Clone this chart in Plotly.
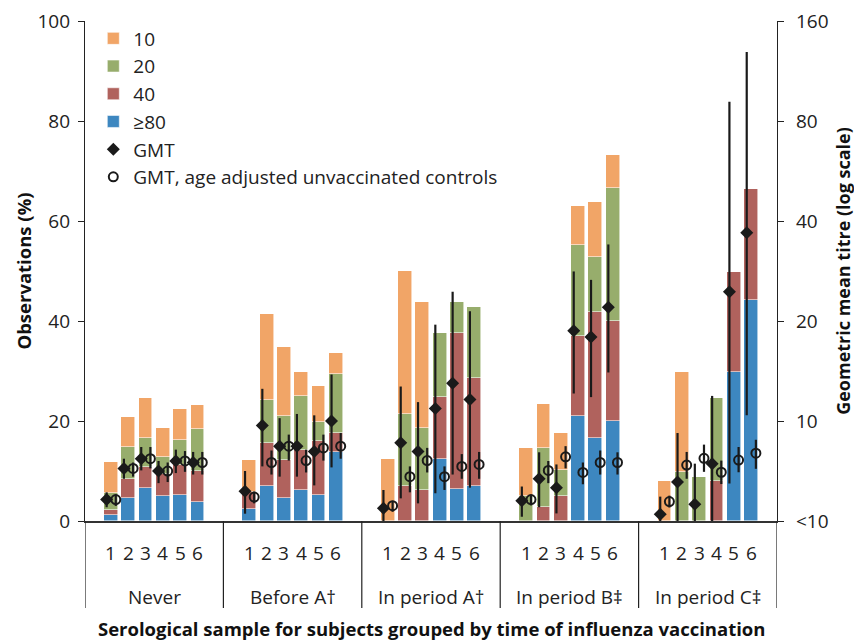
import plotly.graph_objects as go

groups = ["Never", "Before A\u2020", "In period A\u2020", "In period B\u2021", "In period C\u2021"]
samples = ["1", "2", "3", "4", "5", "6"]

# Percent of observations per titre level (segment heights), 5 groups x 6 samples
pct_80 = [1.2, 4.7, 6.7, 5.1, 5.3, 3.9,
          2.5, 7.1, 4.7, 6.3, 5.3, 13.9,
          0.0, 0.0, 0.0, 12.5, 6.4, 7.1,
          0.0, 0.0, 0.0, 21.1, 16.7, 20.1,
          0.0, 0.0, 0.0, 0.0, 29.8, 44.3]
pct_40 = [1.0, 3.7, 4.1, 4.4, 5.9, 6.1,
          3.4, 8.6, 7.5, 8.0, 10.7, 3.8,
          0.0, 7.1, 6.3, 12.4, 31.3, 21.6,
          0.0, 2.9, 5.0, 15.9, 25.1, 20.0,
          0.0, 0.0, 0.0, 8.1, 20.1, 22.2]
pct_20 = [3.5, 6.5, 5.9, 3.4, 5.1, 8.4,
          0.0, 8.6, 8.9, 10.8, 3.8, 11.7,
          0.0, 14.4, 12.4, 12.8, 6.2, 14.2,
          5.0, 11.8, 5.2, 18.2, 11.0, 26.5,
          0.0, 9.8, 8.9, 16.6, 0.0, 0.0]
pct_10 = [6.2, 5.9, 7.9, 5.8, 6.2, 4.8,
          6.3, 17.2, 13.8, 4.7, 7.2, 4.2,
          12.5, 28.5, 25.2, 0.0, 0.0, 0.0,
          9.6, 8.8, 7.5, 7.9, 11.0, 6.7,
          8.1, 20.0, 0.0, 0.0, 0.0, 0.0]

# Geometric mean titres with 95% CI (right axis, log scale)
gmt = [5.8, 7.2, 7.7, 7.07, 7.58, 7.5,
       6.14, 9.7, 8.4, 8.4, 8.1, 10.0,
       5.46, 8.6, 8.1, 10.9, 13.0, 11.6,
       5.75, 6.7, 6.3, 18.7, 17.9, 22.0,
       5.24, 6.55, 5.62, 7.44, 24.5, 36.9]
gmt_lo = [5.5, 6.7, 7.1, 6.5, 6.97, 6.9,
          5.26, 7.3, 6.8, 6.8, 6.4, 7.25,
          4.78, 5.85, 5.65, 6.06, 6.9, 6.3,
          5.15, 5.5, 5.27, 12.1, 11.8, 14.0,
          4.9, 4.9, 4.9, 4.9, 6.48, 10.4]
gmt_hi = [6.1, 7.7, 8.35, 7.58, 8.2, 8.07,
          7.07, 12.5, 10.2, 10.5, 10.4, 13.8,
          6.2, 12.7, 11.4, 19.5, 24.5, 21.4,
          6.35, 8.05, 7.4, 28.2, 26.6, 34.0,
          5.92, 9.2, 7.44, 11.9, 91.5, 129.0]

ctrl = [5.8, 7.2, 7.7, 7.07, 7.58, 7.5,
        5.9, 7.5, 8.4, 7.6, 8.3, 8.4,
        5.56, 6.8, 7.6, 6.8, 7.3, 7.4,
        5.8, 7.1, 7.8, 7.0, 7.5, 7.5,
        5.72, 7.37, 7.72, 7.01, 7.63, 8.0]
ctrl_lo = [5.55, 6.8, 7.2, 6.55, 7.03, 6.9,
           5.65, 6.9, 7.6, 7.0, 7.6, 7.7,
           5.33, 6.1, 7.0, 6.2, 6.7, 6.7,
           5.57, 6.5, 7.2, 6.45, 6.9, 6.9,
           5.49, 6.7, 7.03, 6.46, 7.01, 7.18]
ctrl_hi = [6.0, 7.5, 8.35, 7.5, 8.12, 8.07,
           6.13, 8.15, 9.1, 8.2, 9.1, 9.2,
           5.75, 7.3, 8.3, 7.3, 7.95, 8.07,
           6.0, 7.58, 8.4, 7.5, 8.15, 8.05,
           5.96, 8.07, 8.49, 7.6, 8.35, 8.78]

y2_tickvals = [5, 10, 20, 40, 80, 160]
y2_ticktext = ["<10", "10", "20", "40", "80", "160"]

FONT = "Open Sans"
FS = 19
SLOTS = 8  # category slots per group (one empty slot each side)

xpos = [g * SLOTS + k + 1 for g in range(len(groups)) for k in range(len(samples))]
x_gmt = [x - 0.25 for x in xpos]
x_ctrl = [x + 0.28 for x in xpos]

fig = go.Figure()
bar_line = dict(color="rgba(255,255,255,0.7)", width=0.8)
for name, vals, col, rank in [("\u226580", pct_80, "#3D87C0", 4),
                              ("40", pct_40, "#B0625D", 3),
                              ("20", pct_20, "#97AD6C", 2),
                              ("10", pct_10, "#F1A567", 1)]:
    fig.add_trace(go.Bar(x=xpos, y=vals, name=name, width=0.8,
                         marker=dict(color=col, line=bar_line),
                         legendrank=rank, yaxis="y"))

fig.add_trace(go.Scatter(
    x=x_gmt, y=gmt, mode="markers", name="GMT", yaxis="y2", legendrank=5,
    marker=dict(symbol="diamond", size=10, color="#1a1a1a"),
    error_y=dict(type="data", symmetric=False,
                 array=[h - v for h, v in zip(gmt_hi, gmt)],
                 arrayminus=[v - l for v, l in zip(gmt, gmt_lo)],
                 color="#1a1a1a", thickness=2.2, width=0)))
fig.add_trace(go.Scatter(
    x=x_ctrl, y=ctrl, mode="markers", name="GMT, age adjusted unvaccinated controls",
    yaxis="y2", legendrank=6,
    marker=dict(symbol="circle-open", size=9, color="#1a1a1a", line=dict(width=2)),
    error_y=dict(type="data", symmetric=False,
                 array=[h - v for h, v in zip(ctrl_hi, ctrl)],
                 arrayminus=[v - l for v, l in zip(ctrl, ctrl_lo)],
                 color="#1a1a1a", thickness=2.2, width=0)))

annotations = []
shapes = []
for g, gname in enumerate(groups):
    for k, s in enumerate(samples):
        annotations.append(dict(x=g * SLOTS + k + 1, y=-0.064, xref="x", yref="paper",
                                text=s, showarrow=False, yanchor="middle",
                                font=dict(family=FONT, size=FS, color="#222")))
    annotations.append(dict(x=g * SLOTS + 3.5, y=-0.152, xref="x", yref="paper",
                            text=gname, showarrow=False, yanchor="middle",
                            font=dict(family=FONT, size=FS, color="#222")))
for g in range(len(groups) + 1):
    shapes.append(dict(type="line", xref="x", yref="paper",
                       x0=g * SLOTS - 0.5, x1=g * SLOTS - 0.5, y0=0, y1=-0.174,
                       line=dict(color="#222", width=1.2)))

annotations.append(dict(x=0.5, y=-0.215, xref="paper", yref="paper",
                        text="<b>Serological sample for subjects grouped by time of influenza vaccination</b>",
                        showarrow=False, yanchor="middle",
                        font=dict(family=FONT, size=18.5, color="#111")))

fig.update_layout(
    width=854, height=632,
    margin=dict(l=77, r=85, t=13, b=119, autoexpand=False),
    paper_bgcolor="white", plot_bgcolor="white",
    barmode="stack", bargap=0,
    font=dict(family=FONT, size=FS, color="#222"),
    showlegend=True,
    legend=dict(x=0.012, y=1.003, xanchor="left", yanchor="top",
                traceorder="normal", bgcolor="rgba(0,0,0,0)",
                font=dict(family=FONT, size=FS, color="#222"),
                tracegroupgap=0, itemwidth=30),
    xaxis=dict(range=[-0.5, len(groups) * SLOTS - 0.5], showticklabels=False,
               showgrid=False, zeroline=False, showline=True,
               linecolor="#333", linewidth=2.2, ticks="", automargin=False),
    yaxis=dict(range=[0, 100.01], tickvals=[0, 20, 40, 60, 80, 100],
               showgrid=False, zeroline=False, automargin=False,
               showline=True, linecolor="#222", linewidth=1.3,
               ticks="outside", ticklen=6, tickcolor="#222", tickwidth=1.3,
               ticklabelstandoff=4, ticklabeloverflow="allow",
               tickfont=dict(family=FONT, size=FS, color="#222"),
               title=dict(text="<b>Observations (%)</b>", standoff=0,
                          font=dict(family=FONT, size=18.5, color="#111"))),
    yaxis2=dict(type="log", range=[0.69897, 2.20415], overlaying="y", side="right",
                tickvals=y2_tickvals, ticktext=y2_ticktext, showgrid=False,
                zeroline=False, showline=True, linecolor="#222", linewidth=1.3,
                automargin=False,
                ticks="outside", ticklen=6, tickcolor="#222", tickwidth=1.3,
                ticklabelstandoff=8, ticklabeloverflow="allow",
                tickfont=dict(family=FONT, size=FS, color="#222"),
                title=dict(text="<b>Geometric mean titre (log scale)</b>", standoff=9,
                           font=dict(family=FONT, size=18, color="#111"))),
    annotations=annotations, shapes=shapes,
)

fig.write_html("out.html")
